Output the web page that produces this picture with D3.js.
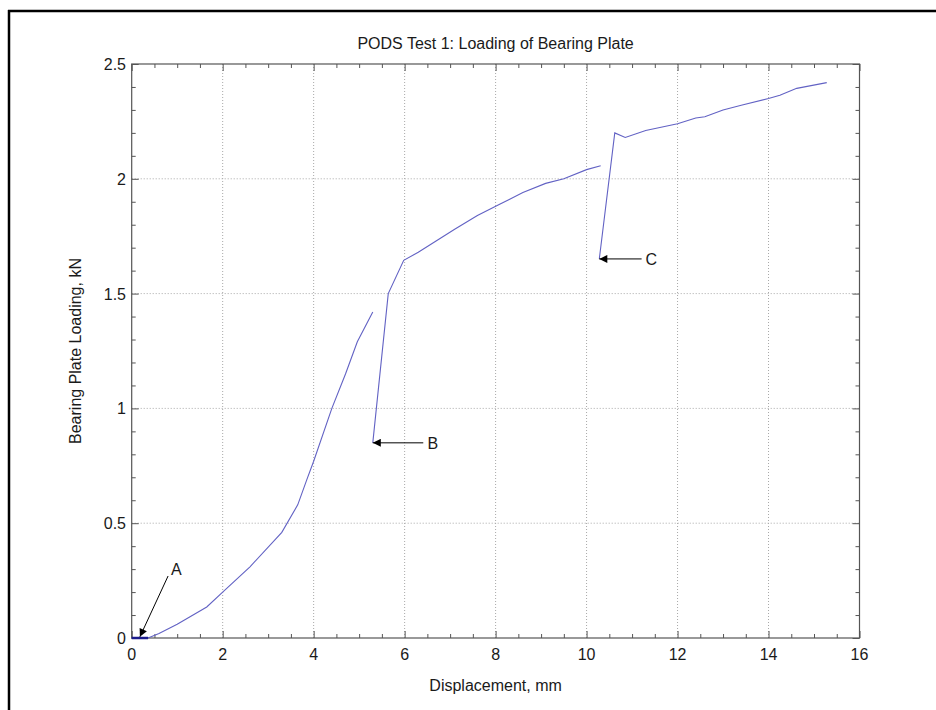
<!DOCTYPE html>
<meta charset="utf-8">
<style>
body { margin:0; background:#fff; }
svg text { font-family: "Liberation Sans", Arial, sans-serif; fill:#1a1a1a; }
</style>
<body>
<svg id="chart" width="936" height="710"></svg>
<script src="https://d3js.org/d3.v7.min.js"></script>
<script>
// measured curve, null = break in the record
var displacement = [0, 0.3, 0.36, 0.6, 1.0, 1.65, 2.0, 2.6, 3.3, 3.65, 3.85, 4.0, 4.4, 4.7, 4.96, 5.30,
  null,
  5.30, 5.64, 5.98, 6.3, 6.7, 7.1, 7.6, 8.1, 8.6, 9.1, 9.5, 10.0, 10.31,
  null,
  10.28, 10.62, 10.85, 11.3, 12.0, 12.4, 12.6, 13.0, 13.4, 14.0, 14.25, 14.62, 15.28];
var loading = [0, 0, 0, 0.02, 0.06, 0.135, 0.20, 0.31, 0.46, 0.58, 0.69, 0.77, 1.0, 1.15, 1.29, 1.42,
  null,
  0.85, 1.50, 1.645, 1.68, 1.73, 1.78, 1.84, 1.89, 1.94, 1.98, 2.00, 2.04, 2.057,
  null,
  1.651, 2.20, 2.18, 2.21, 2.24, 2.265, 2.27, 2.30, 2.32, 2.35, 2.364, 2.394, 2.419];

// seating part drawn heavier
var seatDisp = [0, 0.36];
var seatLoad = [0, 0];

var xTicks = [0, 2, 4, 6, 8, 10, 12, 14, 16];
var yTicks = [0, 0.5, 1, 1.5, 2, 2.5];

// annotations: label, arrow tip (x,y), arrow tail (x,y), label pos
var noteLabels = ["A", "B", "C"];
var noteTipX = [0.18, 5.30, 10.28];
var noteTipY = [0.005, 0.85, 1.651];
var noteTailX = [0.80, 6.41, 11.21];
var noteTailY = [0.27, 0.85, 1.651];
var noteTextX = [0.98, 6.62, 11.42];
var noteTextY = [0.30, 0.85, 1.651];

var svg = d3.select("#chart");

var x = d3.scaleLinear().domain([0, 16]).range([131.7, 859.5]);
var y = d3.scaleLinear().domain([0, 2.5]).range([638, 64]);

// frame (only top and left edges show in the picture)
svg.append("line").attr("x1", 8).attr("x2", 936).attr("y1", 11).attr("y2", 11)
  .attr("stroke", "#000").attr("stroke-width", 2.5);
svg.append("line").attr("x1", 9).attr("x2", 9).attr("y1", 10).attr("y2", 710)
  .attr("stroke", "#000").attr("stroke-width", 2.5);

var x0 = x(0), x1 = x(16), y0 = y(0), y1 = y(2.5);

// grid
var grid = svg.append("g").attr("stroke", "#a8a8a8").attr("stroke-dasharray", "1,2").attr("stroke-width", 1);
grid.selectAll(".gx").data(xTicks.slice(1, -1)).enter().append("line")
  .attr("x1", function(d) { return x(d); }).attr("x2", function(d) { return x(d); })
  .attr("y1", y0).attr("y2", y1);
grid.selectAll(".gy").data(yTicks.slice(1, -1)).enter().append("line")
  .attr("y1", function(d) { return y(d); }).attr("y2", function(d) { return y(d); })
  .attr("x1", x0).attr("x2", x1);

// ticks on all four sides, pointing in (MATLAB style)
var axisCol = "#555";
var xMinor = d3.range(0, 16.01, 0.5).filter(function(v) { return xTicks.indexOf(v) < 0; });
var yMinor = d3.range(0, 2.501, 0.1).map(function(v) { return Math.round(v * 10) / 10; })
  .filter(function(v) { return yTicks.indexOf(v) < 0; });

svg.append("g").attr("transform", "translate(0," + y0 + ")")
  .call(d3.axisTop(x).tickValues(xMinor).tickSize(4).tickFormat(""))
  .call(function(g) { g.select(".domain").remove(); g.selectAll("line").attr("stroke", axisCol); });
svg.append("g").attr("transform", "translate(0," + y0 + ")")
  .call(d3.axisTop(x).tickValues(xTicks).tickSize(7).tickFormat(""))
  .call(function(g) { g.select(".domain").remove(); g.selectAll("line").attr("stroke", axisCol); });
svg.append("g").attr("transform", "translate(0," + y1 + ")")
  .call(d3.axisBottom(x).tickValues(xMinor).tickSize(4).tickFormat(""))
  .call(function(g) { g.select(".domain").remove(); g.selectAll("line").attr("stroke", axisCol); });
svg.append("g").attr("transform", "translate(0," + y1 + ")")
  .call(d3.axisBottom(x).tickValues(xTicks).tickSize(7).tickFormat(""))
  .call(function(g) { g.select(".domain").remove(); g.selectAll("line").attr("stroke", axisCol); });
svg.append("g").attr("transform", "translate(" + x0 + ",0)")
  .call(d3.axisRight(y).tickValues(yMinor).tickSize(4).tickFormat(""))
  .call(function(g) { g.select(".domain").remove(); g.selectAll("line").attr("stroke", axisCol); });
svg.append("g").attr("transform", "translate(" + x0 + ",0)")
  .call(d3.axisRight(y).tickValues(yTicks).tickSize(7).tickFormat(""))
  .call(function(g) { g.select(".domain").remove(); g.selectAll("line").attr("stroke", axisCol); });
svg.append("g").attr("transform", "translate(" + x1 + ",0)")
  .call(d3.axisLeft(y).tickValues(yMinor).tickSize(4).tickFormat(""))
  .call(function(g) { g.select(".domain").remove(); g.selectAll("line").attr("stroke", axisCol); });
svg.append("g").attr("transform", "translate(" + x1 + ",0)")
  .call(d3.axisLeft(y).tickValues(yTicks).tickSize(7).tickFormat(""))
  .call(function(g) { g.select(".domain").remove(); g.selectAll("line").attr("stroke", axisCol); });

// box
svg.append("rect").attr("x", x0).attr("y", y1).attr("width", x1 - x0).attr("height", y0 - y1)
  .attr("fill", "none").attr("stroke", axisCol).attr("stroke-width", 1.2);

// tick labels
svg.append("g").selectAll("text").data(xTicks).enter().append("text")
  .attr("x", function(d) { return x(d); }).attr("y", 660)
  .attr("text-anchor", "middle").attr("font-size", 16)
  .text(function(d) { return d; });
svg.append("g").selectAll("text").data(yTicks).enter().append("text")
  .attr("x", 126).attr("y", function(d) { return y(d) + 6; })
  .attr("text-anchor", "end").attr("font-size", 16)
  .text(function(d) { return d; });

// titles
svg.append("text").attr("x", (x0 + x1) / 2).attr("y", 49).attr("text-anchor", "middle")
  .attr("font-size", 16).text("PODS Test 1: Loading of Bearing Plate");
svg.append("text").attr("x", (x0 + x1) / 2).attr("y", 691).attr("text-anchor", "middle")
  .attr("font-size", 16).text("Displacement, mm");
svg.append("text").attr("transform", "translate(81," + (y0 + y1) / 2 + ") rotate(-90)")
  .attr("text-anchor", "middle").attr("font-size", 16).text("Bearing Plate Loading, kN");

// curve
var pts = displacement.map(function(d, i) { return [d, loading[i]]; });
var line = d3.line()
  .defined(function(d) { return d[0] != null && d[1] != null; })
  .x(function(d) { return x(d[0]); })
  .y(function(d) { return y(d[1]); });
svg.append("path").datum(pts).attr("d", line)
  .attr("fill", "none").attr("stroke", "#6262c4").attr("stroke-width", 1.1);
svg.append("path").datum(seatDisp.map(function(d, i) { return [d, seatLoad[i]]; })).attr("d", line)
  .attr("fill", "none").attr("stroke", "#1c1c8c").attr("stroke-width", 2.5);

// arrows
svg.append("defs").append("marker").attr("id", "head")
  .attr("viewBox", "0 0 10 10").attr("refX", 10).attr("refY", 5)
  .attr("markerWidth", 10).attr("markerHeight", 8).attr("markerUnits", "userSpaceOnUse")
  .attr("orient", "auto")
  .append("path").attr("d", "M0,0L10,5L0,10z").attr("fill", "#000");

noteLabels.forEach(function(lab, i) {
  svg.append("line")
    .attr("x1", x(noteTailX[i])).attr("y1", y(noteTailY[i]))
    .attr("x2", x(noteTipX[i])).attr("y2", y(noteTipY[i]))
    .attr("stroke", "#000").attr("stroke-width", 1).attr("marker-end", "url(#head)");
  svg.append("text").attr("x", x(noteTextX[i])).attr("y", y(noteTextY[i]) + 6)
    .attr("text-anchor", "middle").attr("font-size", 16).text(lab);
});
</script>
